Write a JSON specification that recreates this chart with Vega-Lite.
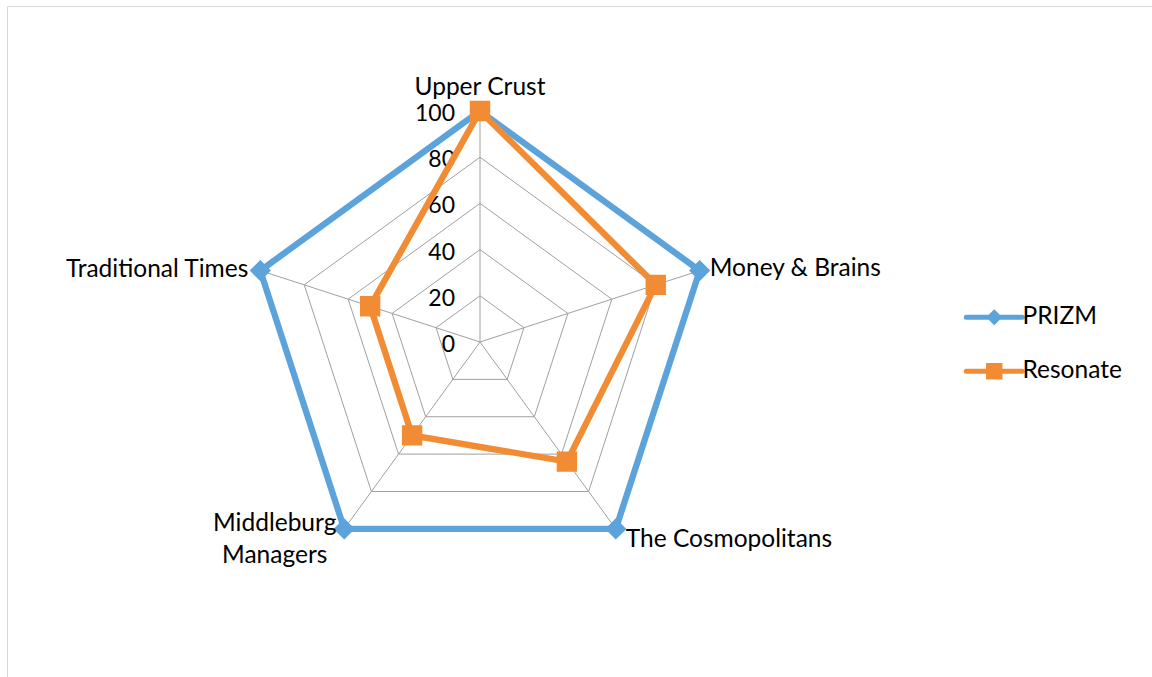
{
  "$schema": "https://vega.github.io/schema/vega-lite/v6.json",
  "width": 1150,
  "height": 680,
  "autosize": "none",
  "padding": {"left": 7, "top": 6, "right": 0, "bottom": 0},
  "background": "white",
  "config": {"view": {"stroke": "#D9D9D9", "strokeWidth": 1}, "font": "Lato"},
  "datasets": {
    "scores": [
      {"segment": "Upper Crust", "k": 0, "series": "PRIZM", "score": 100},
      {"segment": "Money & Brains", "k": 1, "series": "PRIZM", "score": 100},
      {"segment": "The Cosmopolitans", "k": 2, "series": "PRIZM", "score": 100},
      {"segment": "Middleburg Managers", "k": 3, "series": "PRIZM", "score": 100},
      {"segment": "Traditional Times", "k": 4, "series": "PRIZM", "score": 100},
      {"segment": "Upper Crust", "k": 0, "series": "Resonate", "score": 100},
      {"segment": "Money & Brains", "k": 1, "series": "Resonate", "score": 80},
      {"segment": "The Cosmopolitans", "k": 2, "series": "Resonate", "score": 64},
      {"segment": "Middleburg Managers", "k": 3, "series": "Resonate", "score": 50},
      {"segment": "Traditional Times", "k": 4, "series": "Resonate", "score": 50}
    ],
    "axes": [
      {"segment": "Upper Crust", "k": 0},
      {"segment": "Money & Brains", "k": 1},
      {"segment": "The Cosmopolitans", "k": 2},
      {"segment": "Middleburg\nManagers", "k": 3},
      {"segment": "Traditional Times", "k": 4}
    ],
    "levels": [
      {"level": 0, "k": [0, 1, 2, 3, 4]},
      {"level": 20, "k": [0, 1, 2, 3, 4]},
      {"level": 40, "k": [0, 1, 2, 3, 4]},
      {"level": 60, "k": [0, 1, 2, 3, 4]},
      {"level": 80, "k": [0, 1, 2, 3, 4]},
      {"level": 100, "k": [0, 1, 2, 3, 4]}
    ]
  },
  "encoding": {
    "x": {"field": "px", "type": "quantitative", "scale": {"domain": [-204.76, 293.07], "nice": false, "zero": false}, "axis": null},
    "y": {"field": "py", "type": "quantitative", "scale": {"domain": [-148.92, 145.45], "nice": false, "zero": false}, "axis": null}
  },
  "layer": [
    {
      "data": {"name": "levels"},
      "transform": [
        {"filter": "datum.level > 0"},
        {"flatten": ["k"]},
        {"calculate": "datum.level * sin(datum.k * 2 * PI / 5)", "as": "px"},
        {"calculate": "datum.level * cos(datum.k * 2 * PI / 5)", "as": "py"}
      ],
      "mark": {"type": "line", "interpolate": "linear-closed", "stroke": "#A0A0A0", "strokeWidth": 1},
      "encoding": {"detail": {"field": "level", "type": "nominal"}, "order": {"field": "k", "type": "quantitative"}}
    },
    {
      "data": {"name": "axes"},
      "transform": [
        {"calculate": "100 * sin(datum.k * 2 * PI / 5)", "as": "px"},
        {"calculate": "100 * cos(datum.k * 2 * PI / 5)", "as": "py"}
      ],
      "mark": {"type": "rule", "stroke": "#A0A0A0", "strokeWidth": 1},
      "encoding": {"x2": {"datum": 0}, "y2": {"datum": 0}}
    },
    {
      "data": {"name": "levels"},
      "transform": [
        {"calculate": "0", "as": "px"},
        {"calculate": "datum.level", "as": "py"}
      ],
      "mark": {"type": "text", "align": "right", "baseline": "alphabetic", "dx": -25, "dy": 10, "fontSize": 23, "font": "Lato", "color": "#000000"},
      "encoding": {"text": {"field": "level", "type": "quantitative"}}
    },
    {
      "data": {"name": "scores"},
      "transform": [
        {"filter": "datum.series === 'PRIZM'"},
        {"calculate": "datum.score * sin(datum.k * 2 * PI / 5)", "as": "px"},
        {"calculate": "datum.score * cos(datum.k * 2 * PI / 5)", "as": "py"}
      ],
      "mark": {"type": "line", "interpolate": "linear-closed", "stroke": "#5DA3DB", "strokeWidth": 6.3},
      "encoding": {"order": {"field": "k", "type": "quantitative"}}
    },
    {
      "data": {"name": "scores"},
      "transform": [
        {"filter": "datum.series === 'Resonate'"},
        {"calculate": "datum.score * sin(datum.k * 2 * PI / 5)", "as": "px"},
        {"calculate": "datum.score * cos(datum.k * 2 * PI / 5)", "as": "py"}
      ],
      "mark": {"type": "line", "interpolate": "linear-closed", "stroke": "#F18C34", "strokeWidth": 6.3},
      "encoding": {"order": {"field": "k", "type": "quantitative"}}
    },
    {
      "data": {"name": "scores"},
      "transform": [
        {"filter": "datum.series === 'PRIZM'"},
        {"calculate": "datum.score * sin(datum.k * 2 * PI / 5)", "as": "px"},
        {"calculate": "datum.score * cos(datum.k * 2 * PI / 5)", "as": "py"}
      ],
      "mark": {"type": "point", "filled": true, "opacity": 1, "size": 800, "strokeWidth": 0},
      "encoding": {
        "color": {"field": "series", "type": "nominal",
          "scale": {"domain": ["PRIZM", "Resonate"], "range": ["#5DA3DB", "#F18C34"]},
          "legend": {"title": null, "orient": "none", "legendX": 975, "legendY": 299, "padding": 0,
            "symbolSize": 144, "symbolStrokeWidth": 5, "symbolOpacity": 1, "symbolOffset": 0,
            "labelOffset": 16, "rowPadding": 23, "labelFont": "Lato", "labelFontSize": 24.5, "labelColor": "#000000",
            "encode": {"symbols": {"update": {"stroke": {"scale": "color", "field": "value"}, "strokeCap": {"value": "round"}}}}}},
        "shape": {"field": "series", "type": "nominal",
          "scale": {"domain": ["PRIZM", "Resonate"], "range": ["M-4.67,0L4.67,0M0,-0.75L0.75,0L0,0.75L-0.75,0Z", "M-4.67,0L4.67,0M-0.95,-0.95L0.95,-0.95L0.95,0.95L-0.95,0.95Z"]}}
      }
    },
    {
      "data": {"name": "scores"},
      "transform": [
        {"filter": "datum.series === 'Resonate'"},
        {"calculate": "datum.score * sin(datum.k * 2 * PI / 5)", "as": "px"},
        {"calculate": "datum.score * cos(datum.k * 2 * PI / 5)", "as": "py"}
      ],
      "mark": {"type": "point", "filled": true, "opacity": 1, "size": 460, "strokeWidth": 0},
      "encoding": {
        "color": {"field": "series", "type": "nominal"},
        "shape": {"field": "series", "type": "nominal"}
      }
    },
    {
      "data": {"name": "axes"},
      "transform": [
        {"filter": "datum.k === 0"},
        {"calculate": "100 * sin(datum.k * 2 * PI / 5)", "as": "px"},
        {"calculate": "100 * cos(datum.k * 2 * PI / 5)", "as": "py"}
      ],
      "mark": {"type": "text", "align": "center", "baseline": "alphabetic", "dy": -16, "fontSize": 24.5, "font": "Lato", "color": "#000000"},
      "encoding": {"text": {"field": "segment", "type": "nominal"}}
    },
    {
      "data": {"name": "axes"},
      "transform": [
        {"filter": "datum.k === 1"},
        {"calculate": "100 * sin(datum.k * 2 * PI / 5)", "as": "px"},
        {"calculate": "100 * cos(datum.k * 2 * PI / 5)", "as": "py"}
      ],
      "mark": {"type": "text", "align": "left", "baseline": "alphabetic", "dx": 10, "dy": 5.5, "fontSize": 24.5, "font": "Lato", "color": "#000000"},
      "encoding": {"text": {"field": "segment", "type": "nominal"}}
    },
    {
      "data": {"name": "axes"},
      "transform": [
        {"filter": "datum.k === 2"},
        {"calculate": "100 * sin(datum.k * 2 * PI / 5)", "as": "px"},
        {"calculate": "100 * cos(datum.k * 2 * PI / 5)", "as": "py"}
      ],
      "mark": {"type": "text", "align": "left", "baseline": "alphabetic", "dx": 10, "dy": 18, "fontSize": 24.5, "font": "Lato", "color": "#000000"},
      "encoding": {"text": {"field": "segment", "type": "nominal"}}
    },
    {
      "data": {"name": "axes"},
      "transform": [
        {"filter": "datum.k === 3"},
        {"calculate": "100 * sin(datum.k * 2 * PI / 5)", "as": "px"},
        {"calculate": "100 * cos(datum.k * 2 * PI / 5)", "as": "py"}
      ],
      "mark": {"type": "text", "align": "center", "baseline": "alphabetic", "dx": -69.5, "dy": 2, "lineBreak": "\n", "lineHeight": 32, "fontSize": 24.5, "font": "Lato", "color": "#000000"},
      "encoding": {"text": {"field": "segment", "type": "nominal"}}
    },
    {
      "data": {"name": "axes"},
      "transform": [
        {"filter": "datum.k === 4"},
        {"calculate": "100 * sin(datum.k * 2 * PI / 5)", "as": "px"},
        {"calculate": "100 * cos(datum.k * 2 * PI / 5)", "as": "py"}
      ],
      "mark": {"type": "text", "align": "right", "baseline": "alphabetic", "dx": -12, "dy": 6.5, "fontSize": 24.5, "font": "Lato", "color": "#000000"},
      "encoding": {"text": {"field": "segment", "type": "nominal"}}
    }
  ]
}
